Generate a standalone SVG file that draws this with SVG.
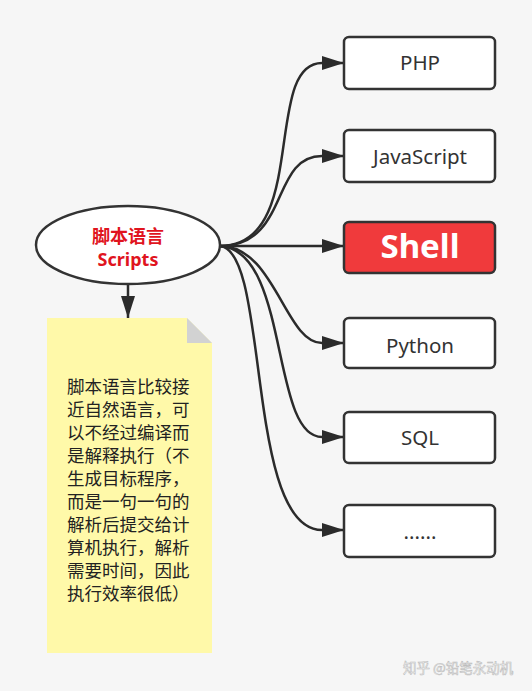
<svg xmlns="http://www.w3.org/2000/svg" width="532" height="691" viewBox="0 0 532 691">
<defs>
<marker id="arr" markerUnits="userSpaceOnUse" markerWidth="24" markerHeight="16" refX="22" refY="7" orient="auto">
<path d="M0,0 L22,7 L0,14 Z" fill="#2b2b2b"/>
</marker>
<style>
.box{fill:#ffffff;stroke:#333333;stroke-width:2.5}
.lbl{font-family:"Noto Sans","Open Sans","Noto Sans CJK SC",sans-serif;font-size:20.5px;fill:#333333;text-anchor:middle}
.conn path{fill:none;stroke:#2b2b2b;stroke-width:2.5;marker-end:url(#arr)}
.note{font-family:"Noto Sans CJK SC","Noto Sans",sans-serif;font-size:17.5px;fill:#222222}
</style>
</defs>
<rect x="0" y="0" width="532" height="691" fill="#f6f6f6"/>

<g id="connectors" class="conn">
<path d="M220,246 C310,246 262,63 322,63 L344,63"/>
<path d="M220,246 C290,246 270,156 322,156 L344,156"/>
<path d="M220,246 L344,246"/>
<path d="M220,246 C275,246 285,343 322,343 L344,343"/>
<path d="M220,246 C290,250 270,437 322,437 L344,437"/>
<path d="M220,246 C270,250 245,530 322,530 L344,530"/>
<path d="M128,284 L128,318"/>
</g>

<g id="root">
<ellipse cx="128" cy="245" rx="92" ry="39" fill="#ffffff" stroke="#333333" stroke-width="2.5"/>
<text x="128" y="243" text-anchor="middle" font-family="'Noto Sans CJK SC','Noto Sans',sans-serif" font-size="18" font-weight="bold" fill="#e0141e">脚本语言</text>
<text x="128" y="266" text-anchor="middle" font-family="'Noto Sans','Noto Sans CJK SC',sans-serif" font-size="18" font-weight="bold" fill="#e0141e">Scripts</text>
</g>

<g id="note">
<path d="M47,318 L187,318 L212,343 L212,653 L47,653 Z" fill="#fff9a9"/>
<path d="M187,318 L212,343 L187,343 Z" fill="#d2d2d2"/>
<text class="note" x="67" y="393">脚本语言比较接</text>
<text class="note" x="67" y="416">近自然语言，可</text>
<text class="note" x="67" y="439">以不经过编译而</text>
<text class="note" x="67" y="462">是解释执行（不</text>
<text class="note" x="67" y="485">生成目标程序，</text>
<text class="note" x="67" y="508">而是一句一句的</text>
<text class="note" x="67" y="531">解析后提交给计</text>
<text class="note" x="67" y="554">算机执行，解析</text>
<text class="note" x="67" y="577">需要时间，因此</text>
<text class="note" x="67" y="600">执行效率很低）</text>
</g>

<g id="php">
<rect class="box" x="344" y="37" width="151" height="52" rx="5"/>
<text class="lbl" x="420" y="70">PHP</text>
</g>
<g id="javascript">
<rect class="box" x="344" y="130" width="151" height="52" rx="5"/>
<text class="lbl" x="420" y="164">JavaScript</text>
</g>
<g id="shell">
<rect x="344" y="222" width="151" height="51" rx="5" fill="#f03a3c" stroke="#333333" stroke-width="2.5"/>
<text x="420" y="258" text-anchor="middle" font-family="'Noto Sans','Open Sans',sans-serif" font-size="33" font-weight="bold" fill="#ffffff">Shell</text>
</g>
<g id="python">
<rect class="box" x="344" y="318" width="151" height="50" rx="5"/>
<text class="lbl" x="420" y="353">Python</text>
</g>
<g id="sql">
<rect class="box" x="344" y="412" width="151" height="51" rx="5"/>
<text class="lbl" x="420" y="445">SQL</text>
</g>
<g id="more">
<rect class="box" x="344" y="505" width="151" height="52" rx="5"/>
<text class="lbl" x="420" y="539">......</text>
</g>

<text x="403" y="673" font-family="'Noto Sans CJK SC',sans-serif" font-size="13.5" fill="#ffffff" stroke="#bdbdbd" stroke-width="0.6">知乎 @铅笔永动机</text>
</svg>
